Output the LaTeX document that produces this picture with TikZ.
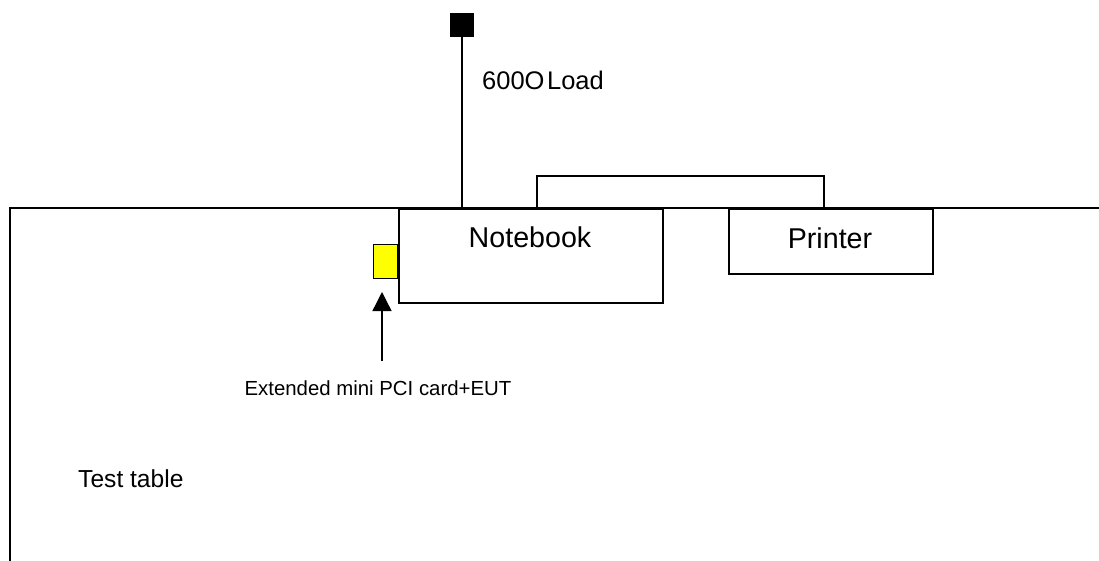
\documentclass[tikz,border=0pt]{standalone}
\usepackage{fontspec}
\setmainfont{Liberation Sans}
\usetikzlibrary{arrows.meta, positioning, calc}
\definecolor{cardYellow}{RGB}{255, 255, 0}

\begin{document}
\begin{tikzpicture}[
        x=0.02cm, y=-0.02cm,
        tableLine/.style={line width=1.1pt, black},
        devBox/.style={rectangle, draw=black, line width=0.9pt, fill=white, inner sep=0pt, anchor=north west},
        wireLine/.style={line width=0.75pt, black},
        devText/.style={font=\fontsize{16.3}{19}\selectfont}
    ]
        \useasboundingbox (0,0) rectangle (1099,561);

        % test table
        \draw[tableLine] (10,561) -- (10,208) -- (1099,208);
        \node[font=\fontsize{14}{17}\selectfont, anchor=west] (tabletxt) at (72,479) {Test table};

        % devices
        \node[devBox, minimum width=264*0.02cm, minimum height=94*0.02cm] (notebook) at (398,208) {};
        \node[devText] (nbtxt) at (530,237) {Notebook};
        \node[devBox, minimum width=204*0.02cm, minimum height=65*0.02cm] (printer) at (728,208) {};
        \node[devText] (prtxt) at (830,238) {Printer};

        % printer cable
        \coordinate (nbport) at (537,208);
        \coordinate (prport) at (824,208);
        \draw[wireLine] (nbport) -- ++(0,-32) -| (prport);

        % load
        \node[rectangle, fill=black, minimum size=24*0.02cm, inner sep=0pt] (load) at (462,25) {};
        \draw[wireLine] (load.south) -- (load.south |- notebook.north);
        \node[font=\fontsize{14.5}{17}\selectfont, anchor=west] (loadtxt) at (476,80) {600O\kern1.5ptLoad};

        % card + EUT
        \node[rectangle, draw=black, line width=0.75pt, fill=cardYellow, anchor=north east, minimum width=24*0.02cm, minimum height=34*0.02cm, inner sep=0pt] (card) at (398,244) {};
        \node[font=\fontsize{11.6}{14}\selectfont] (cardtxt) at (378,388) {Extended mini PCI card+EUT};
        \coordinate (arrowstart) at (382,361);
        \draw[wireLine, -{Triangle[length=19*0.02cm, width=19*0.02cm]}] (arrowstart) -- (382,292);
    \end{tikzpicture}
\end{document}
